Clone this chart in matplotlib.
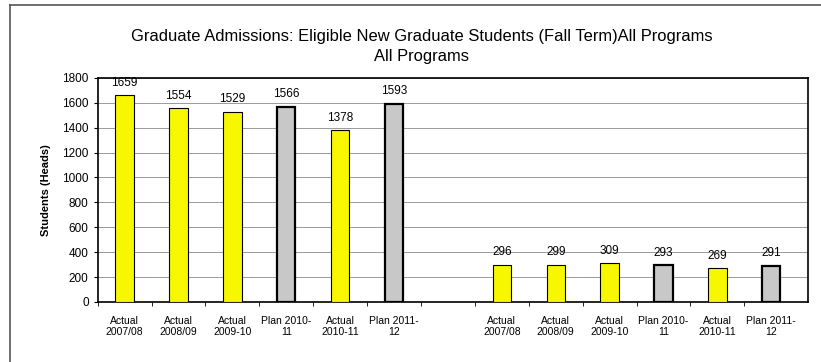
import matplotlib.pyplot as plt
from matplotlib.lines import Line2D

plt.rcParams['font.family'] = ['Liberation Sans', 'DejaVu Sans']

# category labels and values (left group = all programs, right group = second set)
labels = ["Actual\n2007/08", "Actual\n2008/09", "Actual\n2009-10", "Plan 2010-\n11",
          "Actual\n2010-11", "Plan 2011-\n12"]
group1 = [1659, 1554, 1529, 1566, 1378, 1593]
group2 = [296, 299, 309, 293, 269, 291]
is_plan = [False, False, False, True, False, True]

yellow = "#f7f700"
grey = "#c8c8c8"

fig = plt.figure(figsize=(8.21, 3.62), dpi=100)
ax = fig.add_axes([0.119, 0.166, 0.865, 0.619])

values = group1 + [None] + group2
cats = labels + [""] + labels
plans = is_plan + [False] + is_plan

for i, v in enumerate(values):
    if v is None:
        continue
    p = plans[i]
    ax.bar(i, v, width=0.34, color=grey if p else yellow, edgecolor="black",
           linewidth=1.6 if p else 0.8, zorder=3)
    ax.text(i, v + 55, str(v), ha="center", va="bottom", fontsize=8.5, zorder=4)

ax.set_xlim(-0.48, 12.68)
ax.set_ylim(0, 1800)
ax.set_yticks(range(0, 1801, 200))
ax.tick_params(axis="y", labelsize=8.5, length=3, direction="out")
ax.set_xticks(range(len(cats)))
ax.set_xticklabels(cats, fontsize=7.5)
ax.tick_params(axis="x", length=0, pad=10)
ax.set_xticks([i + 0.5 for i in range(-1, 12)], minor=True)
ax.tick_params(axis="x", which="minor", length=3)
ax.grid(axis="y", color="#9a9a9a", linewidth=0.7, zorder=0)
for s in ax.spines.values():
    s.set_linewidth(1.2)
ax.set_ylabel("Students (Heads)", fontsize=8, fontweight="bold", labelpad=8)

fig.text(0.514, 0.9, "Graduate Admissions: Eligible New Graduate Students (Fall Term)All Programs",
         ha="center", va="center", fontsize=11.9)
fig.text(0.514, 0.845, "All Programs", ha="center", va="center", fontsize=11.9)

# outer chart border
fig.add_artist(Line2D([0.012, 0.012], [0.0, 0.986], color="#555555", lw=1.2))
fig.add_artist(Line2D([0.012, 1.0], [0.986, 0.986], color="#555555", lw=1.2))

fig.savefig("out.png", dpi=100)
